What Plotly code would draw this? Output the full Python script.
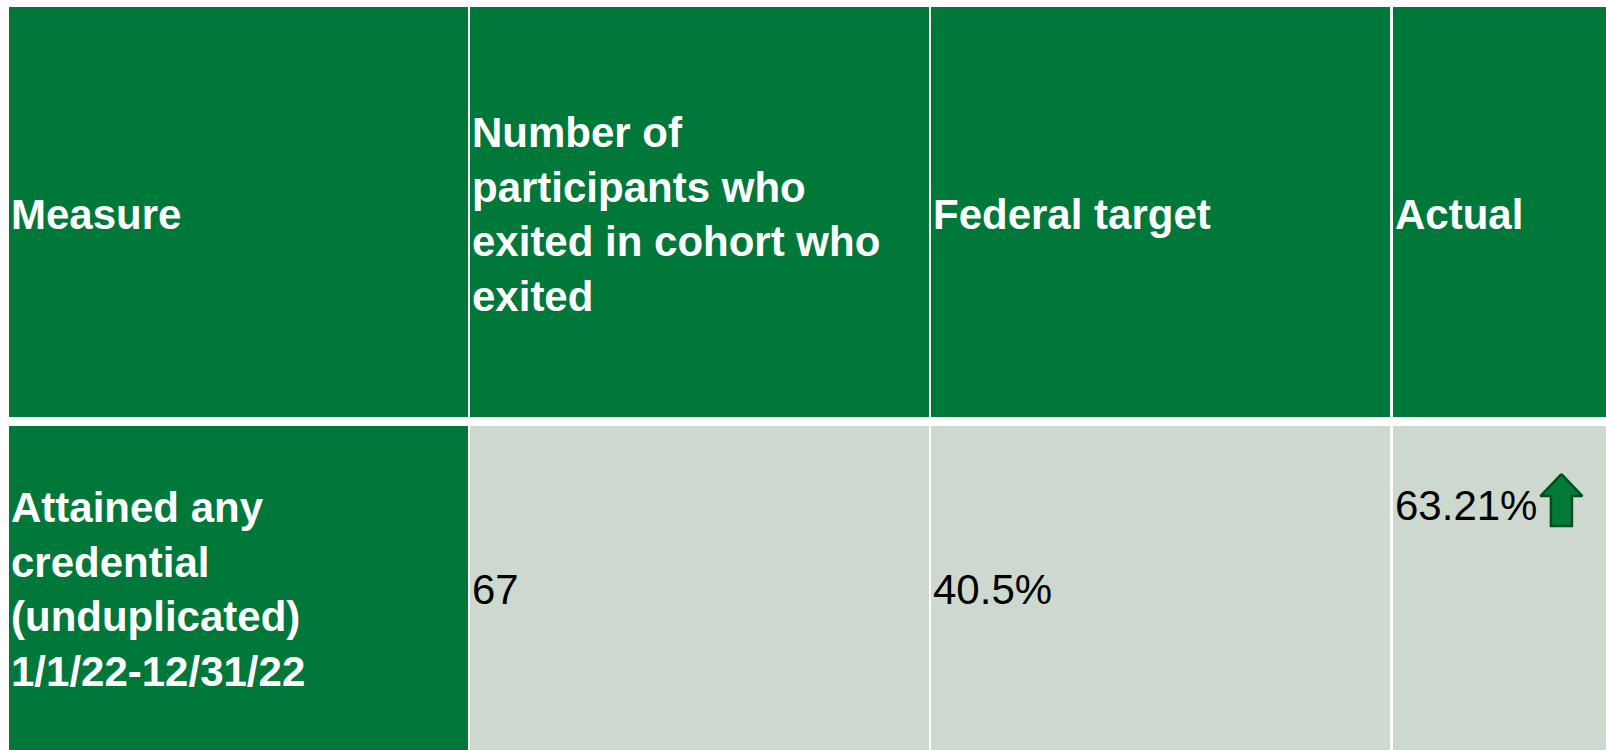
import plotly.graph_objects as go

# ---- data ----
header_labels = ["Measure",
                 "Number of<br>participants who<br>exited in cohort who<br>exited",
                 "Federal target",
                 "Actual"]
measures = ["Attained any<br>credential<br>(unduplicated)<br>1/1/22-12/31/22"]
participants = [67]
federal_target = [40.5]   # percent
actual = [63.21]          # percent

# ---- styling / layout ----
W, H = 1606, 750
GREEN = "#00783a"
BODY = "#cdd8cf"
ARROW_FILL = "#037a36"
ARROW_LINE = "#004d20"
FONT = "Liberation Sans, Arial, sans-serif"
FS = 42
PAD = 0

col_x = [(9, 468), (470, 929), (931, 1390), (1393, 1852)]
head_y = (7, 417)
body_y = (426, 752)

fig = go.Figure()
shapes = []
annotations = []

# header cells
for (x0, x1), lab in zip(col_x, header_labels):
    shapes.append(dict(type="rect", xref="x", yref="y", x0=x0, x1=x1,
                       y0=head_y[0], y1=head_y[1], fillcolor=GREEN,
                       line=dict(width=0), layer="below"))
    annotations.append(dict(x=x0 + PAD, y=(head_y[0] + head_y[1]) / 2 + 2,
                            xref="x", yref="y", xanchor="left", yanchor="middle",
                            text="<b>%s</b>" % lab, showarrow=False, align="left",
                            font=dict(family=FONT, size=FS, color="white")))

# body row(s)
for i, m in enumerate(measures):
    y0, y1 = body_y
    ym = (y0 + y1) / 2
    fills = [GREEN, BODY, BODY, BODY]
    for (x0, x1), f in zip(col_x, fills):
        shapes.append(dict(type="rect", xref="x", yref="y", x0=x0, x1=x1,
                           y0=y0, y1=y1, fillcolor=f, line=dict(width=0),
                           layer="below"))
    annotations.append(dict(x=col_x[0][0] + PAD, y=ym, xref="x", yref="y",
                            xanchor="left", yanchor="middle", align="left",
                            text="<b>%s</b>" % m, showarrow=False,
                            font=dict(family=FONT, size=FS, color="white")))
    annotations.append(dict(x=col_x[1][0] + PAD, y=ym, xref="x", yref="y",
                            xanchor="left", yanchor="middle",
                            text=str(participants[i]), showarrow=False,
                            font=dict(family=FONT, size=FS, color="black")))
    annotations.append(dict(x=col_x[2][0] + PAD, y=ym, xref="x", yref="y",
                            xanchor="left", yanchor="middle",
                            text="%g%%" % federal_target[i], showarrow=False,
                            font=dict(family=FONT, size=FS, color="black")))
    act_txt = "%.2f%%" % actual[i]
    ty = y0 + 79
    annotations.append(dict(x=col_x[3][0] + PAD, y=ty, xref="x", yref="y",
                            xanchor="left", yanchor="middle",
                            text=act_txt, showarrow=False,
                            font=dict(family=FONT, size=FS, color="black")))
    # up/down arrow relative to target
    text_w = 3.391 * FS
    ax = col_x[3][0] + PAD + 2 + text_w + 3
    up = actual[i] >= federal_target[i]
    top = ty - 31
    w, hh, sw, tot = 42, 22, 21, 52
    cx = ax + w / 2
    if up:
        xs = [cx, ax + w, cx + sw / 2, cx + sw / 2, cx - sw / 2, cx - sw / 2, ax, cx]
        ys = [top, top + hh, top + hh, top + tot, top + tot, top + hh, top + hh, top]
    else:
        xs = [cx, ax + w, cx + sw / 2, cx + sw / 2, cx - sw / 2, cx - sw / 2, ax, cx]
        ys = [top + tot, top + tot - hh, top + tot - hh, top, top, top + tot - hh,
              top + tot - hh, top + tot]
    fig.add_trace(go.Scatter(x=xs, y=ys, mode="lines", fill="toself",
                             fillcolor=ARROW_FILL,
                             line=dict(color=ARROW_LINE, width=2.5),
                             hoverinfo="skip", showlegend=False))

fig.update_layout(
    width=W, height=H, margin=dict(l=0, r=0, t=0, b=0),
    paper_bgcolor="white", plot_bgcolor="white",
    xaxis=dict(range=[0, W], visible=False, fixedrange=True),
    yaxis=dict(range=[H, 0], visible=False, fixedrange=True),
    shapes=shapes, annotations=annotations, showlegend=False,
)
fig.write_html("out.html")
